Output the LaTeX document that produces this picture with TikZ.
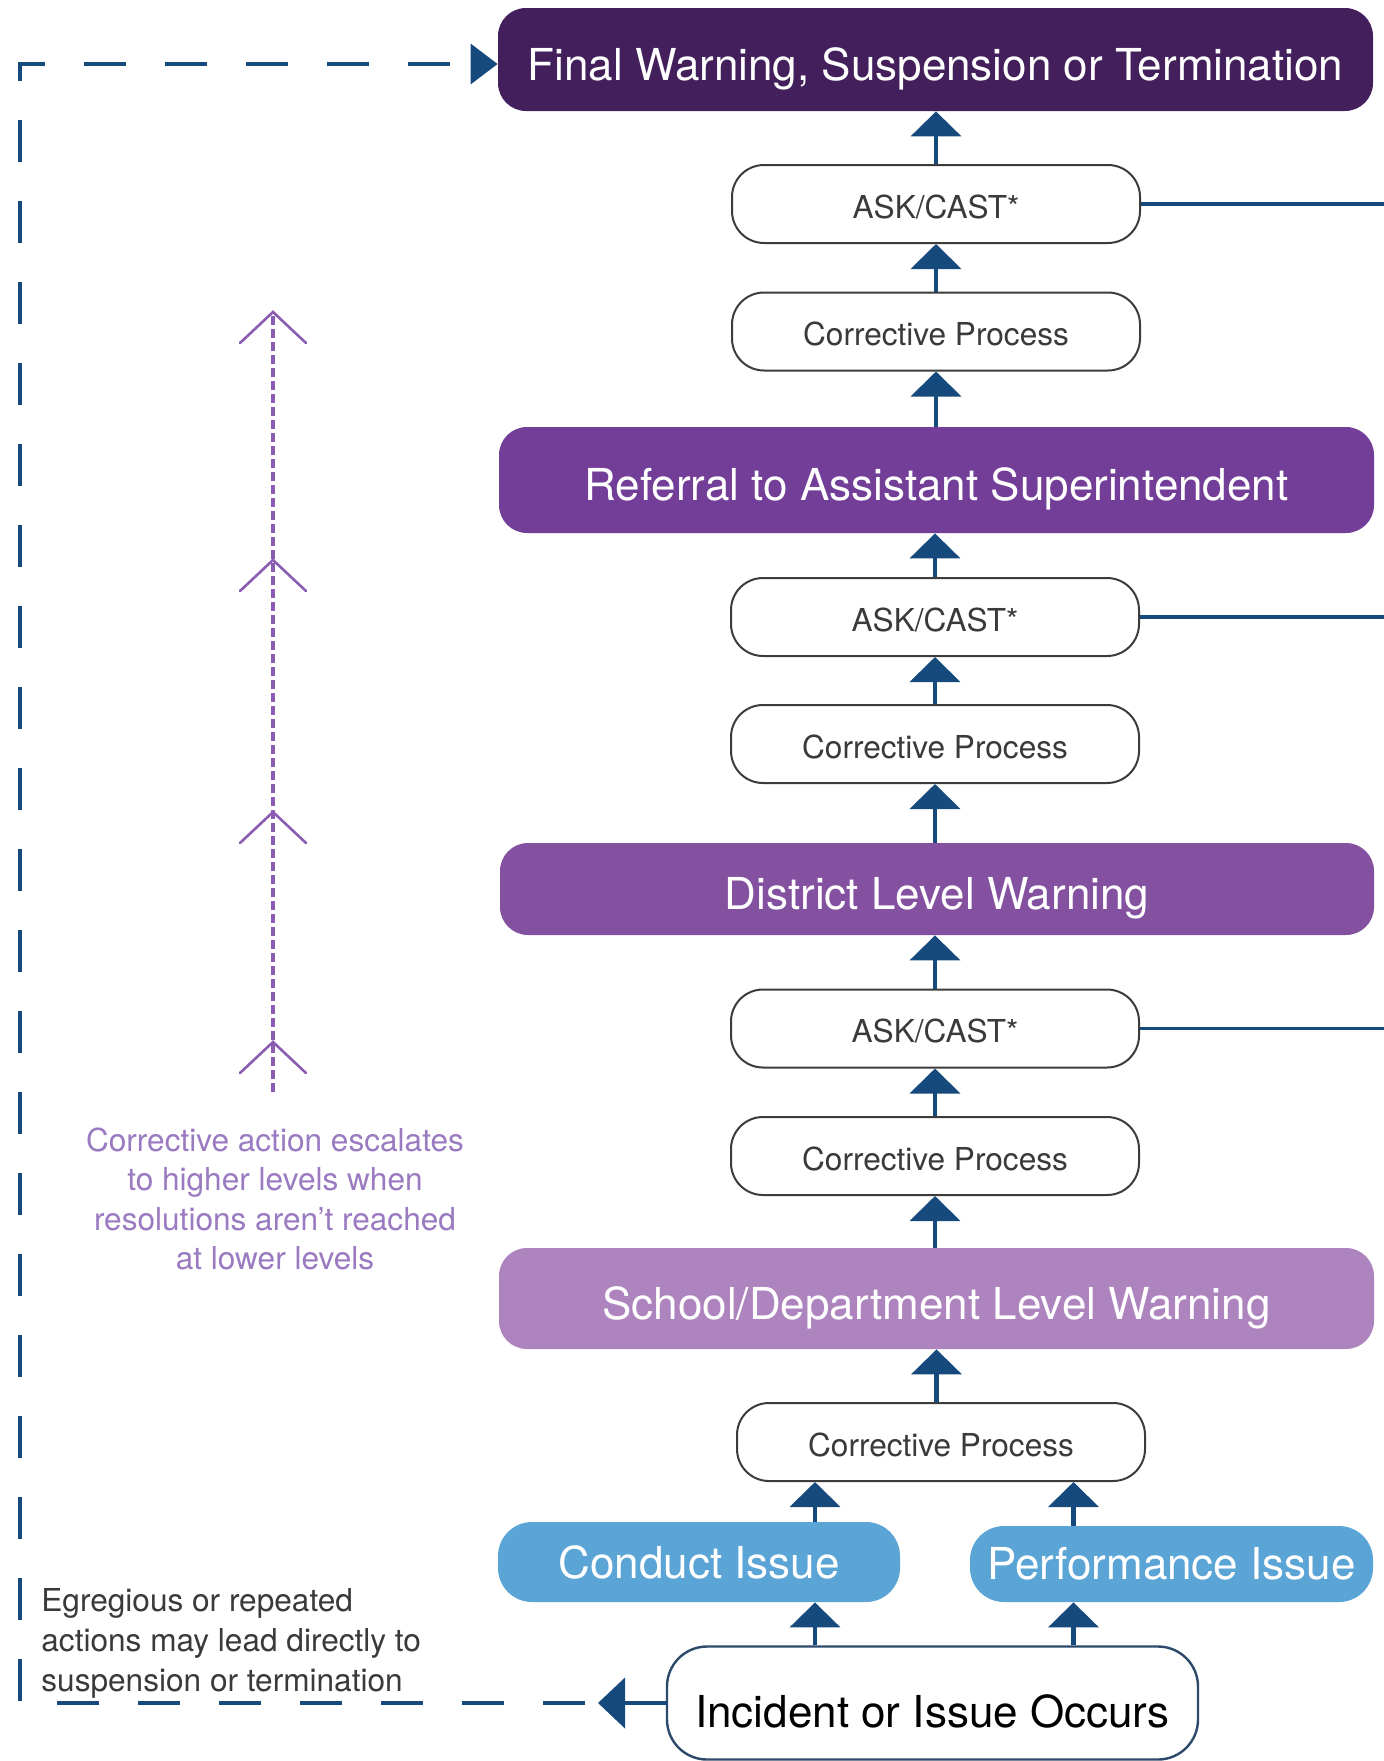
\documentclass[tikz,border=0pt]{standalone}
\usepackage{fontspec}
\setmainfont{TeX Gyre Heros}
\usetikzlibrary{arrows.meta,calc}
\definecolor{finalc}{HTML}{43205B}
\definecolor{referc}{HTML}{733E97}
\definecolor{distc}{HTML}{8451A1}
\definecolor{schoolc}{HTML}{AE84BE}
\definecolor{issuec}{HTML}{5BA4D6}
\definecolor{navy}{HTML}{174A7C}
\definecolor{escc}{HTML}{8A5DB2}
\definecolor{esctext}{HTML}{9A7AC0}
\definecolor{graytext}{HTML}{3A3A3A}
\definecolor{boxline}{HTML}{3C3C3C}
\definecolor{incc}{HTML}{2D4A6B}
\begin{document}
\begin{tikzpicture}[x=0.5pt,y=-0.5pt,
  level/.style={rounded corners=14pt, inner sep=0pt, text=white,
    font=\fontsize{22}{26}\selectfont, minimum width=437.5pt,
    text height=20.9pt, text depth=0pt},
  stage/.style={draw=boxline, line width=1pt, fill=white, rounded corners=16pt,
    inner sep=0pt, minimum width=204pt, minimum height=39pt, text=graytext,
    font=\fontsize{15.8}{19}\selectfont, text height=14.2pt, text depth=0pt},
  issue/.style={fill=issuec, rounded corners=17pt, inner sep=0pt, text=white,
    font=\fontsize{22}{26}\selectfont},
  uparrow/.style={draw=navy, line width=2.2pt, -{Triangle[length=12.5pt,width=25pt]}},
  sideline/.style={draw=navy, line width=1.6pt},
  escline/.style={draw=escc, line width=1.8pt, dash pattern=on 4.5pt off 2pt},
  chevron/.style={draw=escc, line width=1.3pt, line cap=round, line join=miter},
]
\fill[white] (0,0) rectangle (1384,1761);
\useasboundingbox (0,0) rectangle (1384,1761);

% level boxes
\node[level, fill=finalc, minimum height=51.5pt] (final) at (935.5,59.5) {Final Warning, Suspension or Termination};
\node[stage] (ask1) at (936,204) {ASK/CAST*};
\node[stage] (cp1) at (936,331.5) {Corrective Process};
\node[level, fill=referc, minimum height=53pt] (referral) at (936.5,480) {Referral to Assistant Superintendent};
\node[stage] (ask2) at (935,617) {ASK/CAST*};
\node[stage] (cp2) at (935,744) {Corrective Process};
\node[level, fill=distc, minimum height=46pt, minimum width=437pt] (district) at (937,889) {District Level Warning};
\node[stage] (ask3) at (935,1028.5) {ASK/CAST*};
\node[stage] (cp3) at (935,1156) {Corrective Process};
\node[level, fill=schoolc, minimum height=50.5pt] (school) at (936.5,1298.5) {School/Department Level Warning};
\node[stage] (cp4) at (941,1442) {Corrective Process};
\node[issue, minimum width=201pt, minimum height=40pt] (conduct) at (699,1562) {Conduct Issue};
\node[issue, minimum width=201.5pt, minimum height=38pt] (perf) at (1171.5,1564) {Performance Issue};
\node[draw=incc, line width=1.2pt, fill=white, rounded corners=20pt, minimum width=265.5pt,
  minimum height=56.5pt, inner sep=0pt, font=\fontsize{22}{26}\selectfont, text=black,
  text height=24pt, text depth=0pt]
  (incident) at (932.5,1703) {Incident or Issue Occurs};

% vertical arrows
\draw[uparrow] (ask1.north) -- (ask1.north |- final.south);
\draw[uparrow] (cp1.north) -- (cp1.north |- ask1.south);
\draw[uparrow] (referral.north -| cp1) -- (cp1.south);
\draw[uparrow] (ask2.north) -- (ask2.north |- referral.south);
\draw[uparrow] (cp2.north) -- (cp2.north |- ask2.south);
\draw[uparrow] (district.north -| cp2) -- (cp2.south);
\draw[uparrow] (ask3.north) -- (ask3.north |- district.south);
\draw[uparrow] (cp3.north) -- (cp3.north |- ask3.south);
\draw[uparrow] (school.north -| cp3) -- (cp3.south);
\draw[uparrow] (school.south |- cp4.north) -- (school.south);
\coordinate (cx) at (815,0);
\coordinate (px) at (1073.5,0);
\draw[uparrow] (conduct.north -| cx) -- (cp4.south -| cx);
\draw[uparrow] (perf.north -| px) -- (cp4.south -| px);
\draw[uparrow] (incident.north -| cx) -- (conduct.south -| cx);
\draw[uparrow] (incident.north -| px) -- (perf.south -| px);

% side lines from ASK/CAST
\coordinate (redge) at (1384,0);
\draw[sideline] (ask1.east) -- (ask1.east -| redge);
\draw[sideline] (ask2.east) -- (ask2.east -| redge);
\draw[sideline] (ask3.east) -- (ask3.east -| redge);

% dashed shortcut
\coordinate (tipB) at (598,1703);
\coordinate (dashB) at (585,1703);
\coordinate (cornerBL) at (20,1703);
\coordinate (cornerTL) at (20,64);
\draw[navy, line width=2.2pt, -{Triangle[length=13.5pt,width=25pt]}] (incident.west) -- (tipB);
\draw[navy, line width=2pt, dash pattern=on 21pt off 19.5pt,
  -{Triangle[length=13.5pt,width=20pt]}] (dashB) -- (cornerBL) -- (cornerTL) -- (final.west |- cornerTL);

% escalation arrow
\draw[escline] (273,1092) -- (273,314);
\foreach \yy in {312,560,812,1042}{
  \draw[chevron] (240,\yy+31) -- (273,\yy) -- (306,\yy+31);
}

% texts
\node[text=esctext, align=center, inner sep=0pt, font=\fontsize{15.8}{19.75}\selectfont]
  (esc) at (275,1199) {Corrective action escalates\\to higher levels when\\resolutions aren’t reached\\at lower levels};
\node[anchor=west, text=graytext, align=left, inner sep=0pt, font=\fontsize{15.8}{20}\selectfont]
  (egr) at (41,1643) {Egregious or repeated\\actions may lead directly to\\suspension or termination};
\end{tikzpicture}
\end{document}
